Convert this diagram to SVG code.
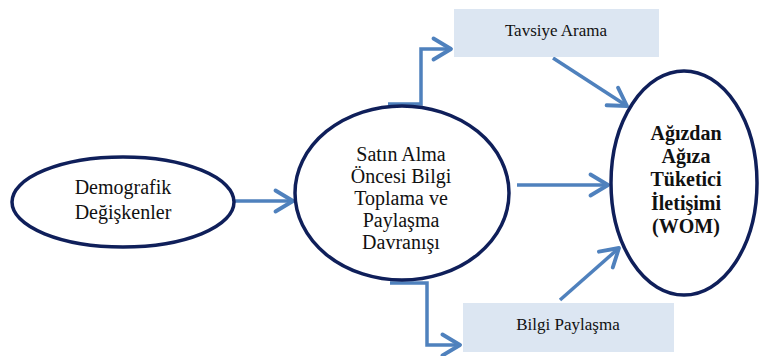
<svg xmlns="http://www.w3.org/2000/svg" width="768" height="356" viewBox="0 0 768 356">
<defs>
<marker id="ah" markerWidth="8" markerHeight="8" refX="6.5" refY="4" orient="auto" markerUnits="strokeWidth">
<path d="M1.5,1 L6.5,4 L1.5,7" fill="none" stroke="#4f81bd" stroke-width="1.1" stroke-linecap="round" stroke-linejoin="round"/>
</marker>
</defs>
<rect width="768" height="356" fill="#ffffff"/>
<g id="connectors" fill="none" stroke="#4f81bd" stroke-width="3.5" marker-end="url(#ah)">
<path d="M235,201 H293"/>
<path d="M388,104 H421 V49 H451"/>
<path d="M390,283 H427 V345 H460"/>
<path d="M517,185 H608"/>
<path d="M553,58 L627,106"/>
<path d="M560,300 L619,248"/>
</g>
<g id="demografik" font-family="Liberation Serif" font-size="20" text-anchor="middle" fill="#111">
<ellipse cx="123" cy="202" rx="111" ry="45" fill="#fff" stroke="#0f1f5a" stroke-width="3.5"/>
<text x="123" y="194">Demografik</text>
<text x="123" y="219">Değişkenler</text>
</g>
<g id="satin-alma" font-family="Liberation Serif" font-size="20" text-anchor="middle" fill="#111">
<ellipse cx="402" cy="193" rx="107" ry="87" fill="#fff" stroke="#0f1f5a" stroke-width="3.5"/>
<text x="401" y="161">Satın Alma</text>
<text x="401" y="183">Öncesi Bilgi</text>
<text x="401" y="205">Toplama ve</text>
<text x="401" y="227">Paylaşma</text>
<text x="401" y="249">Davranışı</text>
</g>
<g id="tavsiye-arama" font-family="Liberation Serif" font-size="17" text-anchor="middle" fill="#111">
<rect x="454" y="9" width="205" height="48" fill="#dce6f2"/>
<text x="556" y="36">Tavsiye Arama</text>
</g>
<g id="bilgi-paylasma" font-family="Liberation Serif" font-size="17" text-anchor="middle" fill="#111">
<rect x="463" y="303" width="211" height="49" fill="#dce6f2"/>
<text x="568" y="330">Bilgi Paylaşma</text>
</g>
<g id="wom" font-family="Liberation Serif" font-size="20" font-weight="bold" text-anchor="middle" fill="#111">
<ellipse cx="684" cy="183" rx="73" ry="112" fill="#fff" stroke="#0f1f5a" stroke-width="3.5"/>
<text x="686" y="140">Ağızdan</text>
<text x="686" y="163">Ağıza</text>
<text x="686" y="186">Tüketici</text>
<text x="686" y="210">İletişimi</text>
<text x="686" y="233">(WOM)</text>
</g>
</svg>
